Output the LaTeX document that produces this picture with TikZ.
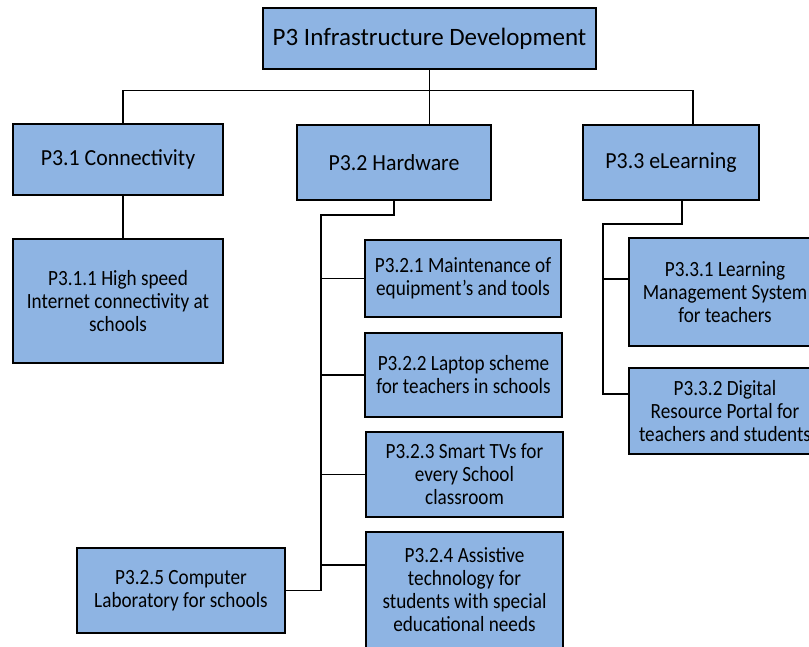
\documentclass[tikz,border=0pt]{standalone}
\usepackage{fontspec}
\setmainfont{Carlito}
\newfontfamily\midfont[FakeStretch=0.95]{Carlito}
\newfontfamily\leaffont[FakeStretch=0.885]{Carlito}
\usepackage{tikz}
\usetikzlibrary{positioning}
\definecolor{boxblue}{RGB}{142,180,227}

\begin{document}
\begin{tikzpicture}[x=1pt,y=-1pt]
            \tikzstyle{every node}+=[inner sep=0pt]
            \tikzstyle{box}=[draw=black,line width=2.4pt,fill=boxblue,align=center]
            \tikzstyle{topbox}=[box,font=\fontsize{25}{29}\selectfont]
            \tikzstyle{midbox}=[box,font=\midfont\fontsize{23}{27}\selectfont]
            \tikzstyle{leafbox}=[box,font=\leaffont\fontsize{21.7}{23}\selectfont]
            \tikzstyle{link}=[draw=black,line width=1.3pt]
            \useasboundingbox (0,0) rectangle (809,646);
            % top and second level
            \node [topbox,minimum width=333pt,minimum height=61pt] (root) at (429.5,38.5) {P3 Infrastructure Development};
            \node [midbox,minimum width=210pt,minimum height=71pt] (conn) at (118,159.5) {P3.1 Connectivity};
            \node [midbox,minimum width=194pt,minimum height=75pt] (hard) at (394,162.5) {P3.2 Hardware};
            \node [midbox,minimum width=176pt,minimum height=75pt] (elearn) at (671,162.5) {P3.3 eLearning};
            % leaves
            \node [leafbox,minimum width=210pt,minimum height=124pt] (speed) at (118,301) {P3.1.1 High speed\\Internet connectivity at\\schools};
            \node [leafbox,minimum width=196pt,minimum height=77pt] (maint) at (463,278.5) {P3.2.1 Maintenance of\\equipment’s and tools};
            \node [leafbox,minimum width=197pt,minimum height=84pt] (laptop) at (463.5,375) {P3.2.2 Laptop scheme\\for teachers in schools};
            \node [leafbox,minimum width=197pt,minimum height=85pt] (tv) at (464.5,474.5) {P3.2.3 Smart TVs for\\every School\\classroom};
            \node [leafbox,minimum width=197pt,minimum height=116pt] (assist) at (464.5,590) {P3.2.4 Assistive\\technology for\\students with special\\educational needs};
            \node [leafbox,minimum width=208pt,minimum height=85pt] (lab) at (181,590.5) {P3.2.5 Computer\\Laboratory for schools};
            \node [leafbox,minimum width=192pt,minimum height=108pt] (lms) at (725,292) {P3.3.1 Learning\\Management System\\for teachers};
            \node [leafbox,minimum width=192pt,minimum height=86pt] (portal) at (725,411) {P3.3.2 Digital\\Resource Portal for\\teachers and students};
            % bus under the top box
            \coordinate (bus) at (429.5,90.5);
            \draw [link] (root.south) -- (hard.north -| root.south);
            \draw [link] ([xshift=5pt]conn.north) |- (bus) -| ([xshift=22pt]elearn.north);
            \draw [link] ([xshift=5pt]conn.south) -- ([xshift=5pt]speed.north);
            % hardware branch
            \coordinate (hw) at (321,215);
            \draw [link] (hard.south) |- (hw) -- (hw |- lab.east) -- (lab.east);
            \draw [link] (hw |- maint.west) -- (maint.west);
            \draw [link] (hw |- laptop.west) -- (laptop.west);
            \draw [link] (hw |- tv.west) -- (tv.west);
            \draw [link] (hw |- 0,565) -- (assist.west |- 0,565);
            % elearning branch
            \coordinate (el) at (603,224);
            \draw [link] ([xshift=11pt]elearn.south) |- (el) -- (el |- 0,394) -- (portal.west |- 0,394);
            \draw [link] (el |- 0,279) -- (lms.west |- 0,279);
\end{tikzpicture}
\end{document}
